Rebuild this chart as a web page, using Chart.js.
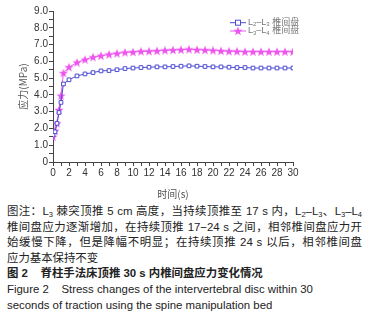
<!DOCTYPE html>
<html>
<head>
<meta charset="utf-8">
<script src="https://cdn.jsdelivr.net/npm/chart.js@4.4.1/dist/chart.umd.min.js"></script>
<style>
  body { margin: 0; background: #fff; width: 366px; height: 331px; overflow: hidden; position: relative; }
  #wrap { position: absolute; left: 0; top: 0; width: 366px; height: 200px; }
  .cap { position: absolute; left: 7px; top: 204px; width: 355px; font-family: "Liberation Sans", "Noto Sans CJK SC", sans-serif; font-size: 11.4px; line-height: 15.6px; color: #222; }
  .cap div { white-space: nowrap; }
  .cap .j { text-align: justify; text-align-last: justify; }
  .cap sub { font-size: 7.5px; vertical-align: -2px; line-height: 0; }
  .cap .b { font-weight: bold; }
</style>
</head>
<body>
<div id="wrap"><canvas class="chart" width="366" height="200"></canvas></div>
<div class="cap">
  <div class="j">图注：L<sub>3</sub> 棘突顶推 5 cm 高度，当持续顶推至 17 s 内，L<sub>2</sub>–L<sub>3</sub>、L<sub>3</sub>–L<sub>4</sub></div>
  <div class="j">椎间盘应力逐渐增加，在持续顶推 17−24 s 之间，相邻椎间盘应力开</div>
  <div class="j">始缓慢下降，但是降幅不明显；在持续顶推 24 s 以后，相邻椎间盘</div>
  <div>应力基本保持不变</div>
  <div class="b">图 2&nbsp;&nbsp;&nbsp; 脊柱手法床顶推 30 s 内椎间盘应力变化情况</div>
  <div>Figure 2&nbsp;&nbsp;&nbsp; Stress changes of the intervertebral disc within 30</div>
  <div>seconds of traction using the spine manipulation bed</div>
</div>
<script>
const times = [0, 0.25, 0.5, 0.75, 1, 1.3, 2, 3, 4, 5, 6, 7, 8, 9, 10, 11, 12, 13, 14, 15, 16, 17, 18, 19, 20, 21, 22, 23, 24, 25, 26, 27, 28, 29, 30];
const l23 = [1.6, 1.8, 2.3, 2.95, 3.55, 4.65, 4.9, 5.13, 5.25, 5.33, 5.43, 5.45, 5.5, 5.57, 5.6, 5.63, 5.65, 5.67, 5.67, 5.69, 5.71, 5.73, 5.71, 5.69, 5.67, 5.67, 5.65, 5.63, 5.63, 5.6, 5.6, 5.6, 5.6, 5.6, 5.6];
const l34 = [1.5, 1.85, 2.3, 3.1, 3.95, 5.3, 5.65, 5.93, 6.1, 6.24, 6.33, 6.41, 6.47, 6.53, 6.55, 6.59, 6.6, 6.62, 6.65, 6.67, 6.69, 6.71, 6.69, 6.67, 6.65, 6.62, 6.6, 6.59, 6.57, 6.57, 6.57, 6.57, 6.57, 6.57, 6.57];
const seriesNames = [["L", "2", "–L", "3", " 椎间盘"], ["L", "3", "–L", "4", " 椎间盘"]];

const blue = "#4b4bd2";
const pink = "#ee55ee";

// filled 5-point star marker
const makeStar = (color) => {
  const c = document.createElement("canvas");
  c.width = 10; c.height = 10;
  const g = c.getContext("2d");
  g.fillStyle = color;
  g.beginPath();
  for (let i = 0; i < 10; i++) {
    const r = i % 2 === 0 ? 4.8 : 2;
    const a = -Math.PI / 2 + i * Math.PI / 5;
    const px = 5 + r * Math.cos(a), py = 5.3 + r * Math.sin(a);
    if (i === 0) g.moveTo(px, py); else g.lineTo(px, py);
  }
  g.closePath();
  g.fill();
  return c;
};
const star = makeStar(pink);

const legendPlugin = {
  id: "miniLegend",
  afterDraw(chart) {
    const ctx = chart.ctx;
    const rows = [{ y: 22.7, color: blue }, { y: 31, color: pink }];
    rows.forEach((row, i) => {
      ctx.save();
      ctx.strokeStyle = row.color;
      ctx.lineWidth = 1;
      ctx.beginPath();
      ctx.moveTo(230, row.y); ctx.lineTo(246, row.y);
      ctx.stroke();
      if (i === 0) {
        ctx.fillStyle = "#fff";
        ctx.fillRect(235.5, row.y - 2.5, 5, 5);
        ctx.strokeRect(235.5, row.y - 2.5, 5, 5);
      } else {
        ctx.drawImage(star, 233, row.y - 5);
      }
      let x = 248;
      ctx.fillStyle = "#777";
      ctx.textBaseline = "middle";
      seriesNames[i].forEach((part, k) => {
        const isSub = k === 1 || k === 3;
        ctx.font = isSub ? "6px 'Liberation Sans', sans-serif" : "9px 'Liberation Sans', 'Noto Sans CJK SC', sans-serif";
        ctx.fillText(part, x, row.y + (isSub ? 2 : 0));
        x += ctx.measureText(part).width;
      });
      ctx.restore();
    });
  },
};

const toPts = (vals) => vals.map((v, i) => ({ x: times[i], y: v }));

new Chart(document.querySelector(".chart"), {
  type: "line",
  data: {
    datasets: [
      {
        label: "L2-L3 椎间盘",
        data: toPts(l23),
        borderColor: blue,
        borderWidth: 1,
        pointStyle: "rect",
        pointRadius: 2.6,
        pointBorderColor: blue,
        pointBackgroundColor: "#fff",
        pointBorderWidth: 1,
      },
      {
        label: "L3-L4 椎间盘",
        data: toPts(l34),
        borderColor: pink,
        borderWidth: 1,
        pointStyle: star,
      },
    ],
  },
  options: {
    responsive: false,
    animation: false,
    layout: { padding: { left: 0, right: 73, top: 11, bottom: 0 } },
    plugins: { legend: { display: false }, tooltip: { enabled: false } },
    scales: {
      x: {
        type: "linear",
        min: 0,
        max: 30,
        afterFit: (s) => { s.height = 38; },
        border: { color: "#444", width: 1 },
        grid: { drawOnChartArea: false, drawTicks: true, tickLength: 4, color: "#444" },
        ticks: {
          stepSize: 1,
          autoSkip: false,
          maxRotation: 0,
          padding: 1,
          color: "#333",
          font: { family: "Liberation Sans", size: 10 },
          callback: (v) => (v % 2 === 0 ? String(v) : ""),
        },
        title: {
          display: true,
          text: "时间(s)",
          color: "#555",
          padding: { top: 4, bottom: 0 },
          font: { family: "Noto Sans CJK SC", size: 10 },
        },
      },
      y: {
        min: 0,
        max: 9,
        afterFit: (s) => { s.width = 53; },
        border: { color: "#444", width: 1 },
        grid: { drawOnChartArea: false, drawTicks: true, tickLength: 4, color: "#444" },
        ticks: {
          stepSize: 0.5,
          autoSkip: false,
          padding: 1,
          color: "#333",
          font: { family: "Liberation Sans", size: 10 },
          callback: (v) => (v === 0 ? "0" : Number.isInteger(v) ? v.toFixed(1) : ""),
        },
        title: {
          display: true,
          text: "应力(MPa)",
          color: "#555",
          padding: { top: 17, bottom: 0 },
          font: { family: "Noto Sans CJK SC", size: 10 },
        },
      },
    },
  },
  plugins: [legendPlugin],
});
</script>
</body>
</html>
